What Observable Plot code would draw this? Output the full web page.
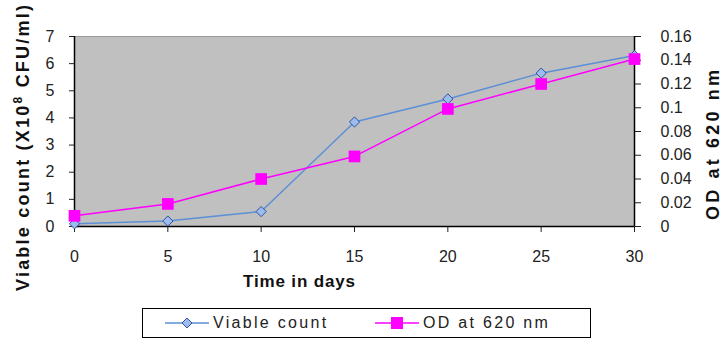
<!DOCTYPE html>
<html>
<head>
<meta charset="utf-8">
<script src="https://cdn.jsdelivr.net/npm/d3@7"></script>
<script src="https://cdn.jsdelivr.net/npm/@observablehq/plot@0.6"></script>
<style>
  html, body { margin: 0; padding: 0; background: #fff; }
  #wrap { position: relative; width: 724px; height: 343px; font-family: "Liberation Sans", Arial, sans-serif; }
  #legend { position: absolute; left: 142px; top: 308px; width: 447px; height: 28px; border: 1px solid #000; background: #fff; }
  .item { position: absolute; top: 0; height: 28px; display: flex; align-items: center; font-size: 16px; letter-spacing: 2.3px; color: #222; white-space: nowrap; }
</style>
</head>
<body>
<div id="wrap">
  <div id="chart"></div>
  <div id="legend"></div>
</div>
<script>
const days = [0, 5, 10, 15, 20, 25, 30];
const viable = [0.1, 0.2, 0.55, 3.85, 4.7, 5.65, 6.3];
const od = [0.009, 0.019, 0.04, 0.059, 0.099, 0.12, 0.141];
const xTicks = [0, 5, 10, 15, 20, 25, 30];
const leftTicks = [0, 1, 2, 3, 4, 5, 6, 7];
const rightTicks = [0, 0.02, 0.04, 0.06, 0.08, 0.1, 0.12, 0.14, 0.16];
const seriesNames = ["Viable count", "OD at 620 nm"];

const leftMax = 7, rightMax = 0.16;
const k = leftMax / rightMax;
const data = days.map((d, i) => ({day: d, viable: viable[i], od: od[i] * k}));

const blueLine = "#5b8fd6", blueFill = "#9dbcee", blueStroke = "#2f4fa0", magenta = "#ff00ff";

const chart = Plot.plot({
  width: 724, height: 300,
  marginLeft: 74, marginRight: 90, marginTop: 36, marginBottom: 74,
  x: {domain: [0, 30]},
  y: {domain: [0, leftMax]},
  style: {fontFamily: "'Liberation Sans', Arial, sans-serif", fontSize: "16px", color: "#222", background: "#fff", overflow: "visible"},
  marks: [
    Plot.frame({fill: "#c0c0c0", stroke: "#9a9a9a"}),
    Plot.axisX({ticks: xTicks, tickSize: 6, tickPadding: 18, label: null, tickFormat: d => String(d)}),
    Plot.axisY({ticks: leftTicks, tickSize: 5, tickPadding: 15, label: null, tickFormat: d => String(d)}),
    Plot.axisY({anchor: "right", ticks: rightTicks.map(v => v * k), tickSize: 6, tickPadding: 20, label: null,
      tickFormat: d => String(+(d / k).toFixed(2))}),
    Plot.ruleX([0, 30], {stroke: "#000", strokeWidth: 1.5}),
    Plot.ruleY([0], {stroke: "#000", strokeWidth: 1.5}),
    Plot.line(data, {x: "day", y: "viable", stroke: blueLine, strokeWidth: 1.5}),
    Plot.dot(data, {x: "day", y: "viable", symbol: "diamond2", r: 4.6, fill: blueFill, stroke: blueStroke, strokeWidth: 1}),
    Plot.line(data, {x: "day", y: "od", stroke: magenta, strokeWidth: 1.5}),
    Plot.dot(data, {x: "day", y: "od", symbol: "square", r: 6.6, fill: magenta, stroke: "none"})
  ]
});
document.getElementById("chart").appendChild(chart);

const svg = d3.select(chart);
const lt = svg.append("text")
  .attr("transform", "translate(29,148) rotate(-90)")
  .attr("text-anchor", "middle")
  .attr("font-weight", "bold").attr("font-size", 18).attr("fill", "#111")
  .attr("textLength", 286).attr("lengthAdjust", "spacing");
lt.append("tspan").text("Viable count (X10");
lt.append("tspan").attr("dy", -7).attr("font-size", 12).text("8");
lt.append("tspan").attr("dy", 7).text(" CFU/ml)");

svg.append("text")
  .attr("transform", "translate(719,145) rotate(-90)")
  .attr("text-anchor", "middle")
  .attr("font-weight", "bold").attr("font-size", 18).attr("fill", "#111")
  .attr("textLength", 150).attr("lengthAdjust", "spacing")
  .text(seriesNames[1]);

svg.append("text")
  .attr("x", 299).attr("y", 287)
  .attr("text-anchor", "middle")
  .attr("font-weight", "bold").attr("font-size", 17).attr("fill", "#111")
  .attr("textLength", 112).attr("lengthAdjust", "spacing")
  .text("Time in days");

// Legend
const legend = document.getElementById("legend");
legend.innerHTML = `
  <div class="item" style="left:22px">
    <svg width="44" height="14" style="margin-right:4px"><line x1="0" y1="7" x2="44" y2="7" stroke="${blueLine}" stroke-width="1.5"/>
    <path d="M22,2 L27,7 L22,12 L17,7 Z" fill="${blueFill}" stroke="${blueStroke}"/></svg>${seriesNames[0]}</div>
  <div class="item" style="left:232px">
    <svg width="44" height="14" style="margin-right:4px"><line x1="0" y1="7" x2="44" y2="7" stroke="${magenta}" stroke-width="1.5"/>
    <rect x="16" y="1" width="12" height="12" fill="${magenta}"/></svg>${seriesNames[1]}</div>`;
</script>
</body>
</html>
